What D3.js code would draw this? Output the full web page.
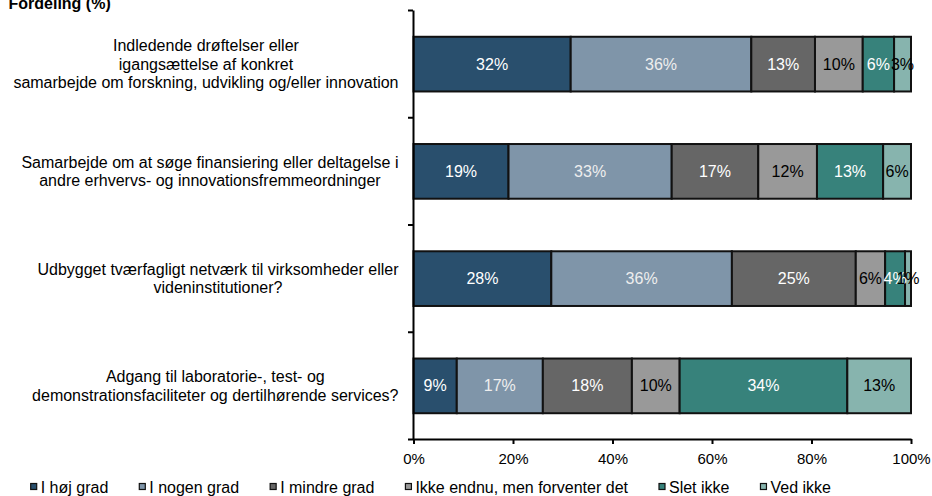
<!DOCTYPE html>
<html>
<head>
<meta charset="utf-8">
<script src="https://cdn.jsdelivr.net/npm/d3@7"></script>
<style>
  html, body { margin: 0; padding: 0; background: #fff; }
  svg { display: block; font-family: "Liberation Sans", Arial, sans-serif; }
</style>
</head>
<body>
<svg id="chart" width="932" height="496"></svg>
<script>
// Question texts, split into the lines they are set on
const categories = [
  ["Indledende drøftelser eller", "igangsættelse af konkret", "samarbejde om forskning, udvikling og/eller innovation"],
  ["Samarbejde om at søge finansiering eller deltagelse i", "andre erhvervs- og innovationsfremmeordninger"],
  ["Udbygget tværfagligt netværk til virksomheder eller", "videninstitutioner?"],
  ["Adgang til laboratorie-, test- og", "demonstrationsfaciliteter og dertilhørende services?"]
];

const seriesNames = ["I høj grad", "I nogen grad", "I mindre grad", "Ikke endnu, men forventer det", "Slet ikke", "Ved ikke"];

// Share of answers (%) per question, one array per answer option
const hojGrad    = [31.6, 19.1, 27.7, 8.7];
const nogenGrad  = [36.3, 32.8, 36.3, 17.3];
const mindreGrad = [12.8, 17.4, 24.9, 17.9];
const ikkeEndnu  = [9.6, 11.8, 5.9, 9.6];
const sletIkke   = [6.3, 13.3, 4.0, 33.7];
const vedIkke    = [3.4, 5.6, 1.2, 12.8];

const tickValues = [0, 20, 40, 60, 80, 100];
const tickLabels = ["0%", "20%", "40%", "60%", "80%", "100%"];

const seriesColors = ["#294f6d", "#7f95a9", "#666666", "#999999", "#37827b", "#87b4ae"];
const labelColors  = ["#ffffff", "#eeeeee", "#ffffff", "#000000", "#ffffff", "#000000"];

const seriesValues = [hojGrad, nogenGrad, mindreGrad, ikkeEndnu, sletIkke, vedIkke];
const rows = categories.map((c, i) => {
  const r = { idx: i };
  seriesNames.forEach((s, j) => { r[s] = seriesValues[j][i]; });
  return r;
});

const svg = d3.select("#chart");

const x = d3.scaleLinear().domain([0, 100]).range([413.5, 911]);
const y = d3.scaleBand().domain(d3.range(categories.length)).range([10.5, 439.5])
  .paddingInner(0.49).paddingOuter(0.245);

const stack = d3.stack().keys(seriesNames)(rows);

// Title (partly above the top edge)
svg.append("text")
  .attr("x", 8.5).attr("y", 9)
  .attr("font-size", 16).attr("font-weight", "bold").attr("fill", "#000")
  .text("Fordeling (%)");

// Bars
const layers = svg.append("g").selectAll("g").data(stack).join("g")
  .attr("fill", (d, i) => seriesColors[i]);

layers.selectAll("rect").data(d => d).join("rect")
  .attr("x", d => x(d[0]))
  .attr("y", d => y(d.data.idx))
  .attr("width", d => x(d[1]) - x(d[0]))
  .attr("height", y.bandwidth())
  .attr("stroke", "#111")
  .attr("stroke-width", 2);

// Value labels
const fmt = d3.format(".0f");
svg.append("g").selectAll("g").data(stack).join("g")
  .attr("fill", (d, i) => labelColors[i])
  .selectAll("text").data(d => d).join("text")
  .attr("x", d => (x(d[0]) + x(d[1])) / 2)
  .attr("y", d => y(d.data.idx) + y.bandwidth() / 2)
  .attr("dy", "0.35em")
  .attr("text-anchor", "middle")
  .attr("font-size", 16)
  .text(d => fmt(d[1] - d[0]) + "%");

// Category labels: block right-aligned, lines centred inside the block
const labelRight = 398.5;
const lineH = 18.4;
const catG = svg.append("g").attr("font-size", 16).attr("fill", "#000");
categories.forEach((lines, i) => {
  const g = catG.append("g");
  const t = g.append("text").attr("text-anchor", "middle");
  const cy = y(i) + y.bandwidth() / 2;
  lines.forEach((line, k) => {
    t.append("tspan")
      .attr("y", cy + (k - (lines.length - 1) / 2) * lineH)
      .attr("dy", "0.35em")
      .text(line);
  });
  let maxW = 0;
  t.selectAll("tspan").each(function () { maxW = Math.max(maxW, this.getComputedTextLength()); });
  t.selectAll("tspan").attr("x", labelRight - maxW / 2);
});

// X axis
const xAxis = svg.append("g")
  .attr("transform", `translate(0,${439})`)
  .call(d3.axisBottom(x).tickValues(tickValues)
    .tickFormat((d, i) => tickLabels[i]).tickSize(5).tickSizeOuter(0).tickPadding(9));
xAxis.select(".domain").attr("stroke", "#000").attr("stroke-width", 2);
xAxis.selectAll(".tick line").attr("stroke", "#000").attr("stroke-width", 2);
xAxis.selectAll(".tick text").attr("font-size", 15).attr("font-family", "Liberation Sans, Arial, sans-serif").attr("fill", "#000");

// Y axis with tick marks between the categories
const yEdges = d3.scaleLinear().domain([0, categories.length]).range([10, 439]);
const yAxis = svg.append("g")
  .attr("transform", `translate(${413},0)`)
  .call(d3.axisLeft(yEdges).tickValues(d3.range(categories.length + 1))
    .tickFormat("").tickSize(5).tickSizeOuter(0));
yAxis.select(".domain").attr("stroke", "#000").attr("stroke-width", 2);
yAxis.selectAll(".tick line").attr("stroke", "#000").attr("stroke-width", 2);

// Legend
const legend = svg.append("g").attr("font-size", 16).attr("fill", "#000");
let lx = 30.7;
seriesNames.forEach((name, i) => {
  legend.append("rect")
    .attr("x", lx).attr("y", 483.5).attr("width", 6).attr("height", 6)
    .attr("fill", seriesColors[i]).attr("stroke", "#111").attr("stroke-width", 1.2);
  const t = legend.append("text").attr("x", lx + 10).attr("y", 493).text(name);
  lx += 10 + t.node().getComputedTextLength() + 31;
});
</script>
</body>
</html>
